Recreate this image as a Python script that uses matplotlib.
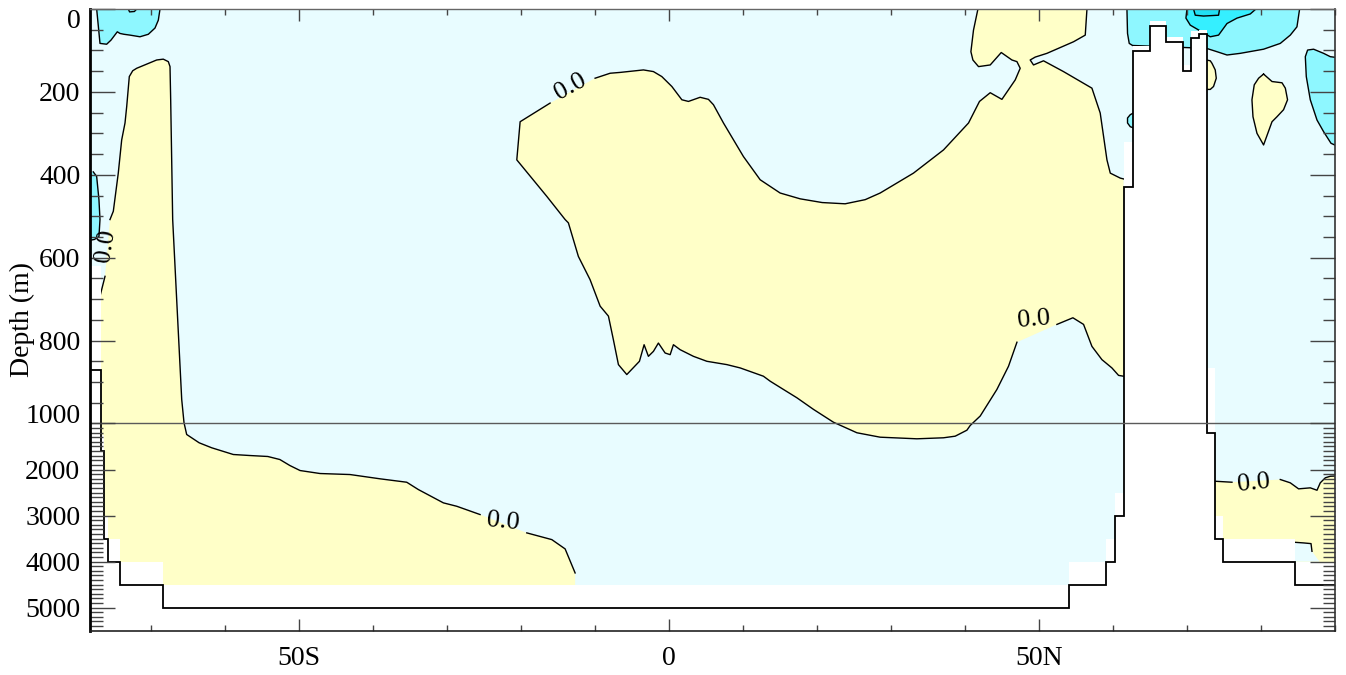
import numpy as np
import matplotlib
matplotlib.use("Agg")
import matplotlib.pyplot as plt

plt.rcParams['font.family'] = ['Liberation Serif', 'DejaVu Serif']

xticks = [-50, 0, 50]
xticklabels = ["50S", "0", "50N"]
yticks = [0, 200, 400, 600, 800, 1000, 2000, 3000, 4000, 5000]

# model bottom (black steps) and depth of the last coloured cell
step_edges = [-78.2, -76.72, -76.27, -75.73, -74.15, -68.38, 54.0, 59.05, 60.3,
              61.43, 62.65, 65.04, 67.2, 69.4, 70.5, 71.6, 72.65, 73.73, 74.81,
              84.54, 90.0]
bottom_depth = [872, 1600, 3500, 4000, 4500, 5000, 4500, 4000, 3000,
                430, 101, 40, 80, 150, 69, 60, 1217, 3500, 4000, 4500]
wet_depth = [621, 1240, 3000, 3500, 4000, 4500, 4000, 3500, 2520,
             320, 90, 30, 68, 135, 53, 50, 867, 3000, 3500, 4000]

# zero contour, southern positive tongue (None = label gap)
south_pos = [(-12.66, 4246), (-14.01, 3724), (-15.81, 3522), (-19.19, 3376), (None, None),
             (-25.50, 2978), (-28.65, 2798), (-30.46, 2724), (-33.84, 2435), (-35.41, 2276),
             (-39.01, 2202), (-43.07, 2109), (-47.12, 2087), (-49.82, 2022), (-51.20, 1913),
             (-52.55, 1783), (-54.18, 1717), (-56.61, 1696), (-58.84, 1674), (-61.76, 1528),
             (-63.45, 1420), (-65.14, 1239), (-65.50, 998), (-65.81, 942), (-66.49, 701),
             (-67.03, 508), (-67.30, 219), (-67.39, 139), (-67.62, 127), (-68.30, 121),
             (-69.19, 123), (-70.54, 133), (-71.89, 143), (-72.43, 149), (-72.89, 163),
             (-73.24, 235), (-73.47, 275), (-73.92, 316), (-74.38, 396), (-75.05, 488),
             (-75.50, 508), (None, None), (-76.17, 645), (-76.85, 693)]
south_close = [(-78.6, 693), (-78.6, 5600), (-12.66, 5600)]

# zero contour, central positive region
central_pos = [(-9.96, 167), (-7.93, 155), (-6.58, 153), (-3.43, 147), (-2.08, 151),
               (-0.95, 163), (0.41, 187), (1.76, 219), (2.65, 223), (4.23, 213),
               (5.35, 218), (6.03, 231), (7.38, 275), (10.08, 356), (12.34, 412),
               (15.04, 444), (17.74, 458), (20.72, 467), (23.82, 470), (26.53, 460),
               (28.55, 444), (33.05, 396), (37.11, 340), (40.49, 275), (41.97, 223),
               (43.42, 202), (45.00, 218), (46.80, 171), (47.47, 143), (47.03, 127),
               (46.35, 123), (44.91, 105), (43.42, 135), (41.84, 139), (41.08, 123),
               (40.81, 103), (41.16, 51), (41.76, 0), (None, None),
               (56.49, 0), (56.26, 63), (54.68, 79), (51.08, 107), (49.50, 116),
               (48.82, 123), (49.27, 135), (50.62, 125), (53.32, 151), (57.16, 191),
               (58.28, 251), (59.19, 364), (59.64, 396), (60.99, 408), (61.43, 410),
               (None, None),
               (61.43, 886), (60.76, 884), (59.86, 866), (58.51, 846), (57.16, 814),
               (56.03, 761), (54.59, 745), (52.43, 761), (None, None), (47.03, 804),
               (45.89, 862), (44.32, 918), (42.07, 982), (40.72, 1043), (40.27, 1146),
               (38.69, 1276), (37.11, 1311), (33.51, 1333), (28.55, 1298), (25.41, 1202),
               (22.24, 997), (19.54, 966), (17.30, 938), (15.49, 918), (13.69, 898),
               (12.78, 886), (9.64, 866), (7.84, 858), (5.14, 850), (3.32, 838),
               (1.53, 822), (0.62, 810), (0.18, 834), (-0.50, 830), (-1.41, 806),
               (-2.08, 826), (-2.76, 838), (-3.34, 810), (-3.97, 850), (-5.68, 882),
               (-6.81, 858), (-7.49, 798), (-8.16, 741), (-9.28, 717), (-10.64, 653),
               (-12.22, 597), (-13.57, 516), (-14.01, 508), (-16.49, 452), (-20.54, 364),
               (-20.09, 272), (-16.04, 227)]

# Nordic seas / Arctic features
lobe_pos = [(72.65, 123), (73.15, 125), (73.38, 131), (73.82, 147), (73.96, 167),
            (73.59, 187), (73.15, 194), (72.65, 194)]
island_pos = [(80.35, 157), (81.49, 175), (82.84, 178), (83.29, 191), (83.59, 219),
              (83.05, 243), (82.16, 260), (81.49, 272), (80.35, 328), (79.46, 300),
              (78.92, 260), (78.78, 219), (79.09, 183), (79.68, 167), (80.35, 157)]
deep_pos = [(73.73, 2254), (76.08, 2276), (None, None), (82.61, 2217), (83.96, 2289),
            (85.08, 2420), (86.66, 2398), (87.57, 2450), (88.01, 2289), (88.69, 2180),
            (89.36, 2146), (90.2, 2140)]
deep_close = [(90.2, 5600), (73.5, 5600), (73.5, 2254)]
deep_pocket = [(84.54, 3580), (85.76, 3594), (86.76, 3609), (86.89, 3776)]
pocket_close = [(87.9, 4000), (84.4, 4000), (84.4, 3580)]

# negative (cyan) patches
sw_neg = [(-77.30, 0), (-76.85, 83), (-75.95, 85), (-75.36, 75), (-74.51, 55),
          (-74.15, 59), (-73.61, 61), (-72.80, 63), (-71.45, 67), (-70.32, 61),
          (-69.42, 46), (-68.97, 27), (-68.74, 0)]
sw_notch = [(-73.03, 0), (-72.85, 7), (-72.2, 6), (-71.89, 0)]
edge_neg = [(-77.76, 393), (-77.30, 404), (-76.99, 460), (-76.85, 508), (-76.99, 549),
            (-77.6, 556), (-78.2, 558)]
edge_close = [(-78.6, 558), (-78.6, 393)]
north_neg1 = [(61.89, 0), (61.97, 59), (62.20, 83), (62.65, 88), (72.65, 95),
              (74.05, 103), (75.41, 111), (77.20, 107), (80.35, 97), (82.61, 83),
              (83.96, 63), (84.86, 43), (85.22, 0)]
north_neg2 = [(70.0, 0), (69.86, 22), (70.45, 39), (71.80, 53), (73.15, 67),
              (74.27, 63), (75.41, 35), (76.76, 22), (78.55, 12), (79.32, 0)]
north_neg3 = [(70.89, 0), (71.12, 15), (72.24, 17), (74.27, 15), (74.41, 0)]
east_neg = [(90.2, 117), (89.36, 115), (88.46, 107), (87.11, 97), (86.30, 99),
            (85.99, 115), (86.12, 163), (86.66, 219), (87.57, 268), (88.46, 296),
            (89.46, 324), (90.2, 330)]
wall_neg = [(62.65, 252), (62.34, 255), (61.97, 263), (61.97, 275), (62.34, 284),
            (62.65, 286)]

# contour labels: lat, depth, rotation
label_lat = [-76.04, -13.34, -22.35, 49.27, 79.0]
label_dep = [571, 187, 3124, 749, 2289]
label_rot = [81, 29, -6, 5, 6]

c_neg = '#E8FCFF'
c_pos = '#FFFFC8'
c_n1 = '#8EF7FF'
c_n2 = '#35EFFF'
c_n3 = '#20E0F4'


# depth axis: upper 1000 m stretched, the rest compressed nine times
def fwd(d):
    d = np.asarray(d, dtype=float)
    return np.where(d <= 1000, d, 1000 + (d - 1000) / 9.0)


def inv(t):
    t = np.asarray(t, dtype=float)
    return np.where(t <= 1000, t, 1000 + (t - 1000) * 9.0)


fig = plt.figure(figsize=(13.46, 6.75), dpi=100)
ax = fig.add_axes([90/1346, 1 - 630.7/675, 1245/1346, 621.7/675])
ax.set_facecolor(c_neg)
ax.set_yscale('function', functions=(fwd, inv))


def region(pts, close, color, z=1):
    a = np.array(pts, dtype=float)
    ok = ~np.isnan(a[:, 0])
    c = np.array(close, dtype=float).reshape(-1, 2)
    poly = np.vstack([a[ok], c])
    ax.fill(poly[:, 0], poly[:, 1], color=color, lw=0, zorder=z)
    ax.plot(a[:, 0], a[:, 1], color='k', lw=1.0, zorder=2)


region(south_pos, south_close, c_pos)
region(central_pos, [], c_pos)
region(lobe_pos, [], c_pos)
region(island_pos, [], c_pos)
region(deep_pos, deep_close, c_pos)
region(deep_pocket, pocket_close, c_neg, 1.2)
region(sw_neg, [], c_n1, 1.2)
region(edge_neg, edge_close, c_n1, 1.2)
region(north_neg1, [], c_n1, 1.2)
region(north_neg2, [], c_n2, 1.3)
region(north_neg3, [], c_n3, 1.4)
region(east_neg, [], c_n1, 1.2)
region(wall_neg, [], c_n1, 1.2)
a = np.array(sw_notch, dtype=float)
ax.plot(a[:, 0], a[:, 1], color='k', lw=1.0, zorder=2)

# land mask and model bottom
ax.stairs(wet_depth, step_edges, baseline=6000, fill=True, color='white', zorder=3)
ax.stairs(bottom_depth, step_edges, baseline=None, color='k', lw=1.3, zorder=4)
ax.axhline(1000, color='#5a5a5a', lw=1.0, zorder=5)

for la, de, ro in zip(label_lat, label_dep, label_rot):
    ax.text(la, de, '0.0', fontsize=19, rotation=ro, rotation_mode='anchor',
            ha='center', va='center', zorder=6)

ax.set_xlim(-78.2, 90)
ax.set_ylim(5500, 0)
ax.set_xticks(xticks, labels=xticklabels, fontsize=20)
ax.set_xticks(np.arange(-70, 91, 10), minor=True)
ax.set_yticks(yticks, labels=[str(v) for v in yticks], fontsize=20)
minor_y = [v for v in list(range(50, 1000, 50)) + list(range(1100, 5500, 100))
           if v not in yticks]
ax.set_yticks(minor_y, minor=True)

ax.tick_params(axis='both', which='both', direction='in', top=True, right=True,
               color='#444444', width=1.0)
ax.tick_params(axis='y', which='major', length=18, pad=7)
ax.tick_params(axis='y', which='minor', length=9)
ax.tick_params(axis='x', which='major', length=8.5, pad=11)
ax.tick_params(axis='x', which='minor', length=4)
ax.xaxis.set_zorder(7)
ax.yaxis.set_zorder(7)

ticks = ax.yaxis.get_major_ticks()
ticks[0].label1.set_verticalalignment('top')
ticks[5].label1.set_verticalalignment('baseline')

ax.set_ylabel('Depth (m)', fontsize=20)
ax.yaxis.set_label_coords(-0.044, 0.5)

ax.spines['left'].set_linewidth(2.0)
ax.spines['left'].set_color('k')
ax.spines['bottom'].set_linewidth(1.2)
ax.spines['bottom'].set_color('#222222')
ax.spines['top'].set_linewidth(1.0)
ax.spines['top'].set_color('#666666')
ax.spines['right'].set_linewidth(1.2)
ax.spines['right'].set_color('#333333')
for s in ax.spines.values():
    s.set_zorder(8)

fig.savefig('out.png', dpi=100)
